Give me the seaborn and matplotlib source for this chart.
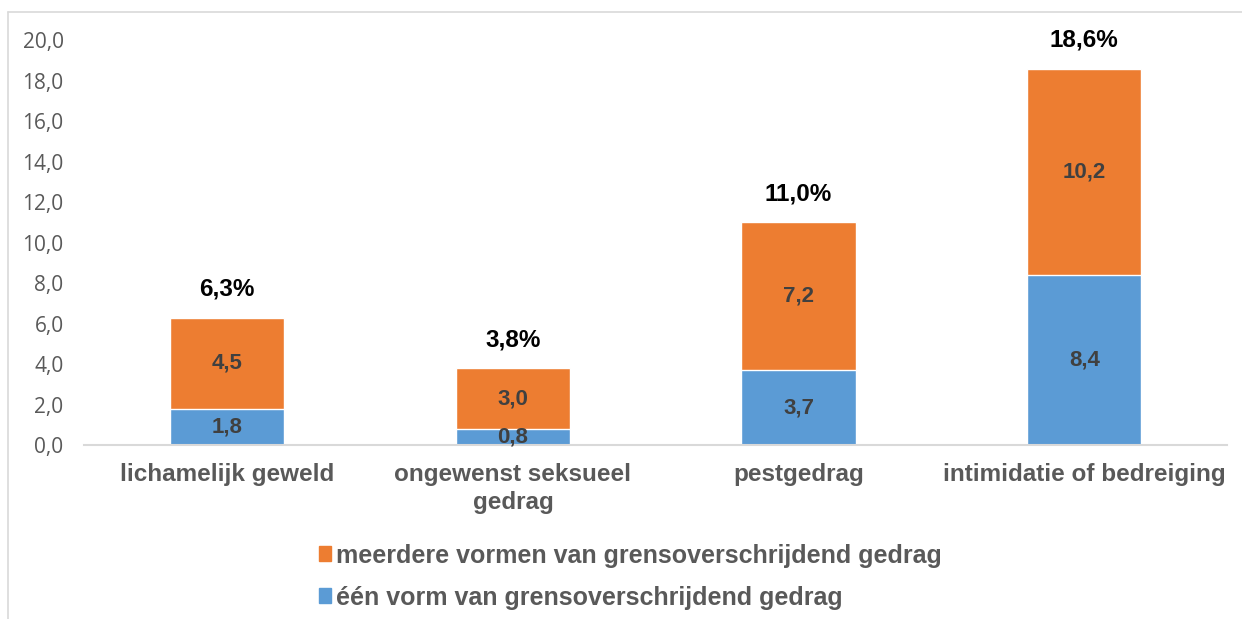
import matplotlib
matplotlib.use('Agg')
import matplotlib.pyplot as plt
import matplotlib.patches as mpatches
import pandas as pd
import seaborn as sns

# %% data
categories = ['lichamelijk geweld', 'ongewenst seksueel\ngedrag', 'pestgedrag', 'intimidatie of bedreiging']
een_vorm = [1.8, 0.8, 3.7, 8.4]
meerdere_vormen = [4.5, 3.0, 7.2, 10.2]
totaal = [6.3, 3.8, 11.0, 18.6]
yticks = [0, 2, 4, 6, 8, 10, 12, 14, 16, 18, 20]

blue = '#5B9BD5'
orange = '#ED7D31'
grey = '#595959'

df = pd.DataFrame({'categorie': categories, 'een': een_vorm, 'meer': meerdere_vormen, 'totaal': totaal})

# %% plot
sns.set_style('white')
plt.rcParams['font.family'] = ['Liberation Sans', 'DejaVu Sans']

fig = plt.figure(figsize=(12.42, 6.19), dpi=100)
ax = fig.add_axes([0.068, 0.281, 0.92, 0.654])

sns.barplot(data=df, x='categorie', y='totaal', color=orange, width=0.4, saturation=1, ax=ax)
sns.barplot(data=df, x='categorie', y='een', color=blue, width=0.4, saturation=1, ax=ax)

ax.set_ylim(0, 20)
ax.set_xlim(-0.5, 3.5)
ax.set_yticks(yticks)
ax.set_yticklabels([f'{v:.1f}'.replace('.', ',') for v in yticks], fontsize=15, color=grey,
                   family=['Open Sans', 'DejaVu Sans'])
ax.set_xticklabels(categories, fontsize=17.5, fontweight='bold', color=grey, linespacing=1.25)
ax.tick_params(axis='x', length=0, pad=13)
ax.tick_params(axis='y', length=0, pad=15)
ax.set_xlabel('')
ax.set_ylabel('')
for s in ['left', 'right', 'top']:
    ax.spines[s].set_visible(False)
ax.spines['bottom'].set_color('#D9D9D9')
ax.spines['bottom'].set_linewidth(1.5)

# waarden in de balken
for i in range(len(categories)):
    ax.text(i, een_vorm[i] / 2, f'{een_vorm[i]:.1f}'.replace('.', ','), ha='center', va='center',
            fontsize=16, fontweight='bold', color='#404040')
    ax.text(i, een_vorm[i] + (totaal[i] - een_vorm[i]) / 2, f'{meerdere_vormen[i]:.1f}'.replace('.', ','),
            ha='center', va='center', fontsize=16, fontweight='bold', color='#404040')
    ax.annotate(f'{totaal[i]:.1f}%'.replace('.', ','), (i, totaal[i]), xytext=(0, 12),
                textcoords='offset points', ha='center', va='bottom', fontsize=17.5, fontweight='bold',
                color='black', bbox=dict(facecolor='white', edgecolor='none', pad=4), zorder=5)

# legenda
handles = [mpatches.Patch(color=orange, label='meerdere vormen van grensoverschrijdend gedrag'),
           mpatches.Patch(color=blue, label='één vorm van grensoverschrijdend gedrag')]
leg = fig.legend(handles=handles, loc='upper left', bbox_to_anchor=(0.249, 0.138), frameon=False,
                 fontsize=18, handlelength=0.45, handleheight=0.55, handletextpad=0.2, labelspacing=0.72,
                 borderaxespad=0)
for t in leg.get_texts():
    t.set_fontweight('bold')
    t.set_color(grey)

# kader
fig.add_artist(plt.Line2D([8 / 1242, 8 / 1242], [0, 1 - 12 / 619], color='#D9D9D9', lw=1.2, zorder=0))
fig.add_artist(plt.Line2D([8 / 1242, 1], [1 - 12 / 619, 1 - 12 / 619], color='#D9D9D9', lw=1.2, zorder=0))

fig.savefig('out.png', dpi=100)
